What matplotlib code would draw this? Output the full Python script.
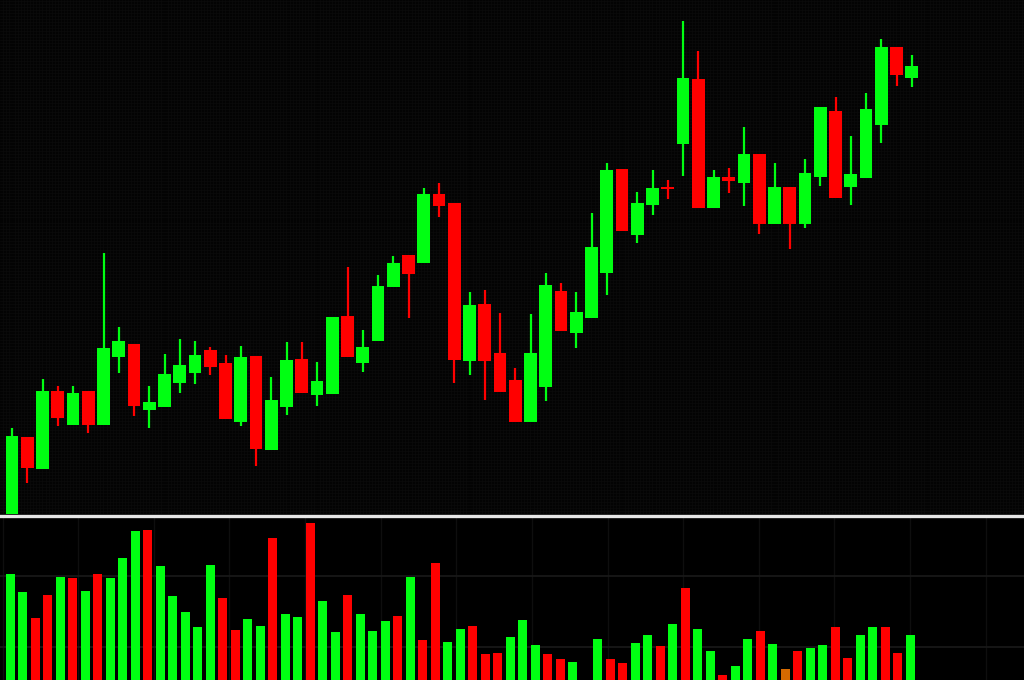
import numpy as np
import matplotlib.pyplot as plt
from matplotlib.lines import Line2D

# candle data (open, high, low, close), arbitrary price units
opens = [5, 83, 51, 129, 95, 129, 95, 163, 176, 110, 113, 137, 147, 170, 157,
         98, 164, 70, 113, 161, 125, 126, 204, 157, 179, 233, 265, 257, 326, 317,
         159, 216, 167, 140, 98, 133, 229, 187, 202, 247, 351, 285, 315, 333, 376,
         441, 312, 343, 337, 366, 296, 333, 296, 343, 409, 333, 342, 395, 473, 442]
highs = [92, 83, 141, 134, 134, 129, 267, 193, 176, 134, 166, 181, 179, 173, 165,
         174, 164, 143, 178, 178, 158, 203, 253, 190, 245, 264, 265, 332, 337, 317,
         228, 230, 207, 152, 206, 247, 237, 228, 307, 357, 351, 328, 350, 340, 499,
         469, 350, 352, 393, 366, 357, 333, 361, 413, 423, 384, 427, 481, 473, 465]
lows = [2, 37, 51, 94, 95, 87, 95, 147, 104, 92, 113, 127, 136, 145, 101,
        94, 54, 70, 105, 127, 114, 126, 163, 148, 179, 233, 202, 257, 303, 137,
        145, 120, 128, 98, 98, 119, 189, 172, 202, 225, 289, 277, 305, 321, 344,
        312, 312, 327, 314, 286, 296, 271, 292, 334, 322, 315, 342, 377, 434, 433]
closes = [84, 52, 129, 102, 127, 95, 172, 179, 114, 118, 146, 155, 165, 153, 101,
          163, 71, 120, 160, 127, 139, 203, 163, 173, 234, 257, 246, 326, 314, 160,
          215, 159, 128, 98, 167, 235, 189, 208, 273, 350, 289, 317, 332, 331, 442,
          312, 343, 339, 366, 296, 333, 296, 347, 413, 322, 346, 411, 473, 445, 454]

# volume bars (own slots, 0 = empty slot)
volumes = [106, 88, 62, 85, 103, 102, 89, 106, 102, 122, 149, 150, 114, 84, 68,
           53, 115, 82, 50, 61, 54, 142, 66, 63, 157, 79, 48, 85, 66, 49,
           59, 64, 103, 40, 117, 38, 51, 54, 26, 27, 43, 60, 35, 26, 21,
           18, 0, 41, 21, 17, 37, 45, 34, 56, 92, 51, 29, 5, 14, 41,
           49, 36, 11, 29, 32, 35, 53, 22, 45, 53, 53, 27, 45]
# g = up, r = down, o = orange, - = empty
vol_dirs = list("ggrrgrgrgg" "grgggggrrg" "grggrggrgg" "grgrrggrrr" "gggrrg" "-"
                "grrggrgrgg" "rggrgorggr" "rggrrg")

GREEN = "#00ff12"
RED = "#ff0000"
ORANGE = "#d66a00"
BG = "#030303"
VBG = "#000000"

fig = plt.figure(figsize=(10.24, 6.8), dpi=100, facecolor=BG)
ax = fig.add_axes([0, 166 / 680, 1, 514 / 680])
axv = fig.add_axes([0, 0, 1, 163 / 680])

ax.set_facecolor(BG)
axv.set_facecolor(VBG)
for a in (ax, axv):
    for s in a.spines.values():
        s.set_visible(False)
    a.tick_params(left=False, bottom=False, labelleft=False, labelbottom=False,
                  which="both")

# fine screen texture in the price panel
ax.set_xticks(np.arange(-1, 67, 0.2), minor=True)
ax.set_yticks(np.arange(0, 530, 3), minor=True)
ax.grid(which="minor", color="#0b0b0b", linewidth=0.5)

# candles
x = np.arange(len(opens))
o = np.array(opens)
c = np.array(closes)
up = c >= o
colors = np.where(up, GREEN, RED)
ax.vlines(x, lows, highs, colors=colors, linewidth=1.6, zorder=3)
body_bottom = np.minimum(o, c)
body_height = np.maximum(np.abs(c - o), 2)
ax.bar(x, body_height, bottom=body_bottom, width=0.85, color=colors, zorder=4)
ax.set_xlim(-12 / 15.25, (1024 - 12) / 15.25)
ax.set_ylim(6, 520)

# volume
vx = np.arange(len(volumes))
cmap = {"g": GREEN, "r": RED, "o": ORANGE, "-": VBG}
vcolors = [cmap[d] for d in vol_dirs]
axv.set_yticks([33, 104])
axv.set_xticks(np.arange(-0.6, 82, 6.05))
axv.grid(True, axis="y", color="#1a1a1a", linewidth=1.2)
axv.grid(True, axis="x", color="#0e0e0e", linewidth=1.0)
axv.set_axisbelow(True)
axv.bar(vx, volumes, width=0.72, color=vcolors, zorder=3)
axv.set_xlim(-0.8, (1024 - 10) / 12.5)
axv.set_ylim(0, 163)

# separator between panels
fig.add_artist(Line2D([0, 1], [164.5 / 680] * 2, color="#e6e6e6", linewidth=2.4))

fig.savefig("out.png", dpi=100, facecolor=BG)
